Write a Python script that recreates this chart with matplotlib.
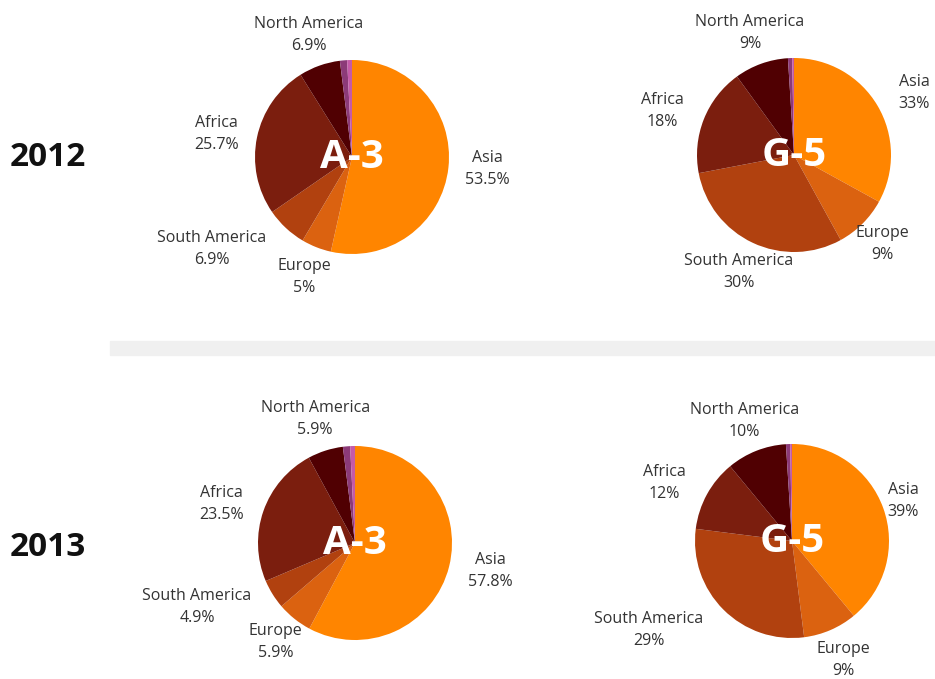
import numpy as np
import matplotlib
matplotlib.use('Agg')
import matplotlib.pyplot as plt
from matplotlib.patches import Rectangle

# data
regions = ['Asia', 'Europe', 'South America', 'Africa', 'North America', 'Oceania', 'Other']
show_label = [True, True, True, True, True, False, False]
a3_2012 = [53.5, 5, 6.9, 25.7, 6.9, 1.2, 0.8]
g5_2012 = [33, 9, 30, 18, 9, 0.7, 0.3]
a3_2013 = [57.8, 5.9, 4.9, 23.5, 5.9, 1.2, 0.8]
g5_2013 = [39, 9, 29, 12, 10, 0.7, 0.3]
years = ['2012', '2013']
groups = ['A-3', 'G-5']

colors = ['#FF8500', '#DB6210', '#B1410F', '#7B1E0E', '#500002', '#8C3A78', '#C45AA8']

plt.rcParams['font.family'] = ['Open Sans', 'DejaVu Sans']

W, H = 935, 679
fig = plt.figure(figsize=(W / 100, H / 100), dpi=100)
renderer = fig.canvas.get_renderer()

R = 97      # pie radius in px
SPAN = 1.75

def pie_axes(cx, cy):
    half = SPAN * R
    return fig.add_axes([(cx - half) / W, (H - cy - half) / H, 2 * half / W, 2 * half / H])

def draw(ax, vals, name):
    ax.set_xlim(-SPAN, SPAN)
    ax.set_ylim(-SPAN, SPAN)
    wedges, _ = ax.pie(vals, colors=colors, startangle=90, counterclock=False,
                       radius=1, wedgeprops=dict(linewidth=0))
    ax.set_xlim(-SPAN, SPAN)
    ax.set_ylim(-SPAN, SPAN)
    for w, reg, v, show in zip(wedges, regions, vals, show_label):
        if not show:
            continue
        th = np.deg2rad((w.theta1 + w.theta2) / 2)
        c, s = np.cos(th), np.sin(th)
        d = 1.15 + 0.2 * abs(s)
        if abs(c) < 0.65:
            ha = 'center'
        else:
            ha = 'left' if c > 0 else 'right'
        t = ax.text(d * c, d * s, f'{reg}\n{v:g}%', ha=ha, va='center',
                    multialignment='center', fontsize=11.5, color='#333333',
                    linespacing=1.5, clip_on=False)
        # keep labels inside the figure
        if t.get_window_extent(renderer).x1 > W - 1:
            t.set_ha('center')
            over = t.get_window_extent(renderer).x1 - (W - 1)
            if over > 0:
                t.set_x(d * c - over / R)
    ax.text(0, 0, name, ha='center', va='center', color='white',
            fontsize=29, fontweight='bold')
    ax.axis('off')

draw(pie_axes(352, 157), a3_2012, groups[0])
draw(pie_axes(794, 155), g5_2012, groups[1])
draw(pie_axes(355, 543), a3_2013, groups[0])
draw(pie_axes(792, 541), g5_2013, groups[1])

fig.text(48 / W, 1 - 158 / H, years[0], ha='center', va='center',
         fontsize=24, fontweight='bold', color='#111111')
fig.text(48 / W, 1 - 548 / H, years[1], ha='center', va='center',
         fontsize=24, fontweight='bold', color='#111111')

# grey divider band
fig.patches.append(Rectangle((110 / W, 1 - 355 / H), (W - 110) / W, 14 / H,
                             transform=fig.transFigure, color='#F0F0F0', zorder=0))

fig.savefig('out.png', dpi=100)
